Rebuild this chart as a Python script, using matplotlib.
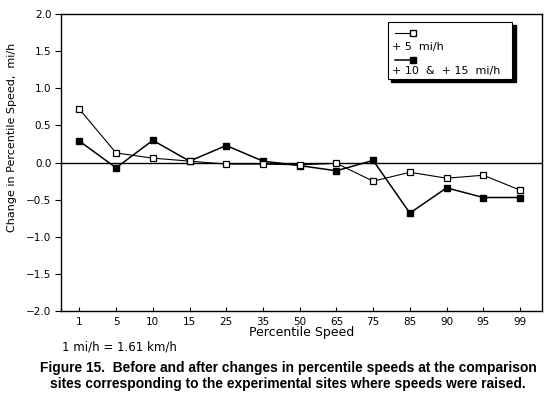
import matplotlib
matplotlib.use("Agg")
import matplotlib.pyplot as plt
from matplotlib.lines import Line2D
from matplotlib.patches import Rectangle

categories = ["1", "5", "10", "15", "25", "35", "50", "65", "75", "85", "90", "95", "99"]
plus5 = [0.72, 0.13, 0.06, 0.02, -0.02, -0.02, -0.03, -0.01, -0.25, -0.13, -0.21, -0.17, -0.37]
plus10_15 = [0.29, -0.07, 0.30, 0.02, 0.23, 0.02, -0.04, -0.11, 0.03, -0.68, -0.34, -0.47, -0.47]
yticks = [-2.0, -1.5, -1.0, -0.5, 0.0, 0.5, 1.0, 1.5, 2.0]

plt.rcParams['font.family'] = ['DejaVu Sans']
fig = plt.figure(figsize=(5.52, 4.03), dpi=100)
ax = fig.add_axes([0.1105, 0.228, 0.8715, 0.737])

x = list(range(len(categories)))
ax.axhline(0, color="black", lw=1.0, zorder=1)
ax.plot(x, plus5, color="black", lw=0.8, marker="s", markersize=4.8,
        markerfacecolor="white", markeredgecolor="black", markeredgewidth=0.9, zorder=3)
ax.plot(x, plus10_15, color="black", lw=1.1, marker="s", markersize=4.8,
        markerfacecolor="black", markeredgecolor="black", zorder=2)

ax.set_xlim(-0.5, 12.6)
ax.set_ylim(-2.0, 2.0)
ax.set_xticks(x)
ax.set_xticklabels(categories)
ax.set_yticks(yticks)
ax.set_yticklabels([f"{v:.1f}".replace("-", "\u2212") for v in yticks])
ax.tick_params(axis="y", direction="out", length=4, width=0.8, labelsize=7.5, pad=3)
ax.tick_params(axis="x", direction="in", length=3, width=0.8, labelsize=7.5, pad=4.5)
for s in ax.spines.values():
    s.set_linewidth(1.0)

ax.set_xlabel("Percentile Speed", fontsize=9, labelpad=-1)
ax.set_ylabel("Change in Percentile Speed,  mi/h", fontsize=8)
ax.yaxis.set_label_coords(-0.091, 0.584)

# legend box drawn in axes coordinates
lx0, ly0, lw, lh = 0.680, 0.783, 0.258, 0.192
ax.add_patch(Rectangle((lx0 + 0.007, ly0 - 0.012), lw, lh, transform=ax.transAxes,
                       facecolor="black", edgecolor="black", zorder=4))
ax.add_patch(Rectangle((lx0, ly0), lw, lh, transform=ax.transAxes,
                       facecolor="white", edgecolor="black", lw=0.8, zorder=5))
ax.add_line(Line2D([lx0 + 0.014, lx0 + 0.052], [ly0 + 0.153, ly0 + 0.153], transform=ax.transAxes,
                   color="black", lw=0.8, marker="s", markevery=[1], markersize=4.8,
                   markerfacecolor="white", zorder=6))
ax.text(lx0 + 0.008, ly0 + 0.106, "+ 5  mi/h", transform=ax.transAxes, fontsize=8,
        va="center", ha="left", zorder=6)
ax.add_line(Line2D([lx0 + 0.014, lx0 + 0.052], [ly0 + 0.062, ly0 + 0.062], transform=ax.transAxes,
                   color="black", lw=1.1, marker="s", markevery=[1], markersize=4.8,
                   markerfacecolor="black", zorder=6))
ax.text(lx0 + 0.008, ly0 + 0.025, "+ 10  &  + 15  mi/h", transform=ax.transAxes, fontsize=8,
        va="center", ha="left", zorder=6)

fig.text(62 / 552, 1 - 347 / 403, "1 mi/h = 1.61 km/h", fontsize=8.5, ha="left", va="center")
fig.text(288 / 552, 1 - 368 / 403,
         "Figure 15.  Before and after changes in percentile speeds at the comparison",
         fontsize=9.9, fontweight="bold", ha="center", va="center", family="Liberation Sans")
fig.text(288 / 552, 1 - 384 / 403,
         "sites corresponding to the experimental sites where speeds were raised.",
         fontsize=9.9, fontweight="bold", ha="center", va="center", family="Liberation Sans")

fig.savefig("out.png", dpi=100)
